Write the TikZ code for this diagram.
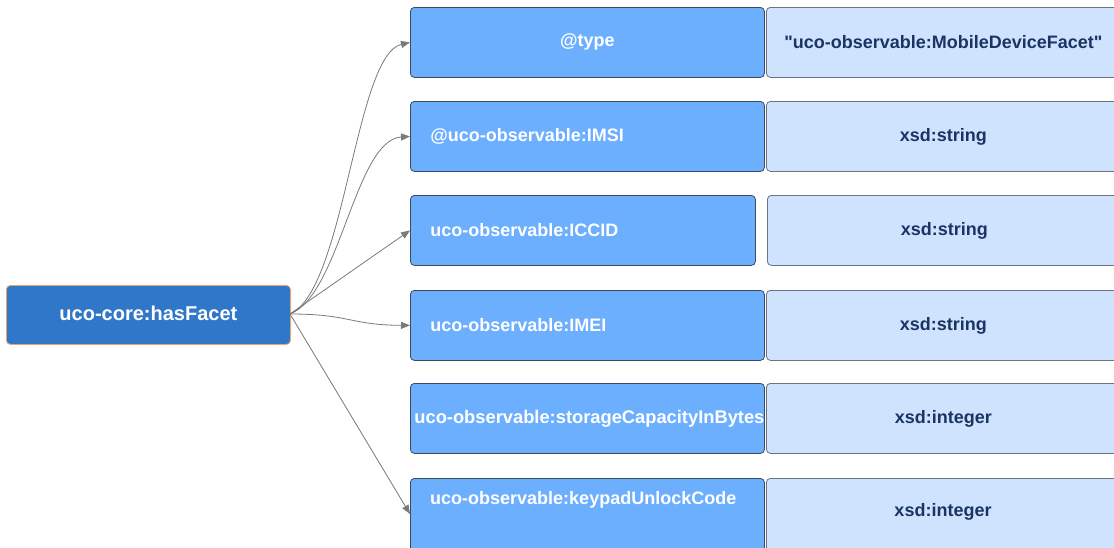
\documentclass[tikz,border=0pt]{standalone}
\usepackage{fontspec}
\setmainfont{Liberation Sans}[Ligatures=TeXOff]
\usetikzlibrary{arrows.meta}
\definecolor{srcfill}{HTML}{3077C9}
\definecolor{srcdraw}{HTML}{EFA366}
\definecolor{keyfill}{HTML}{6CAFFF}
\definecolor{keydraw}{HTML}{3D4A5C}
\definecolor{valfill}{HTML}{CFE3FF}
\definecolor{valdraw}{HTML}{6B7580}
\definecolor{valtext}{HTML}{1B3464}
\definecolor{linkcol}{HTML}{7A7A7A}
\tikzset{
  srcbox/.style={draw=srcdraw, fill=srcfill, rounded corners=4pt, line width=0.8pt,
    minimum width=284pt, minimum height=59pt, anchor=north west, inner sep=0pt,
    text=white, font=\fontsize{20}{24}\selectfont\bfseries},
  keybox/.style={draw=keydraw, fill=keyfill, rounded corners=4pt, line width=0.8pt,
    minimum width=354pt, minimum height=70pt, anchor=north west, inner sep=0pt,
    text=white, font=\fontsize{18}{22}\selectfont\bfseries},
  keyleft/.style={keybox, inner xsep=20pt, text width=314pt, align=left},
  valbox/.style={draw=valdraw, fill=valfill, rounded corners=4pt, line width=0.8pt,
    minimum width=354pt, minimum height=70pt, anchor=north west, inner sep=0pt,
    text=valtext, font=\fontsize{18}{22}\selectfont\bfseries, text width=354pt, align=center},
  keytext/.style={text=white, font=\fontsize{18}{22}\selectfont\bfseries, inner sep=0pt, anchor=west},
  link/.style={draw=linkcol, line width=0.8pt, -{Triangle[length=9pt,width=7pt]}}
}
\begin{document}
\begin{tikzpicture}[x=1pt,y=-1pt]
\clip (0,0) rectangle (1114,547);
\fill[white] (0,0) rectangle (1114,547);
\node[srcbox] (src) at (6,285) {\raisebox{3pt}{uco-core:hasFacet}};
\coordinate (s) at (290,314);

\node[keybox] (k1) at (410,7) {@type};
\node[keyleft] (k2) at (410,101) {@uco-observable:IMSI};
\node[keyleft, minimum width=345pt, text width=305pt] (k3) at (410,195) {uco-observable:ICCID};
\node[keyleft] (k4) at (410,290) {uco-observable:IMEI};
\node[keybox] (k5) at (410,383) {\hspace*{4pt}\resizebox{350pt}{!}{uco-observable:storageCapacityInBytes}\hfill};
\node[keybox, minimum height=95pt] (k6) at (410,478) {};
\node[keytext] (k6t) at (430,500) {uco-observable:keypadUnlockCode};

\node[valbox] (v1) at (766,7) {"uco-observable:MobileDeviceFacet"};
\node[valbox] (v2) at (766,101) {xsd:string};
\node[valbox] (v3) at (767,195) {xsd:string};
\node[valbox] (v4) at (766,290) {xsd:string};
\node[valbox] (v5) at (766,383) {xsd:integer};
\node[valbox, minimum height=95pt] (v6) at (766,478) {};
\node[text=valtext, font=\fontsize{18}{22}\selectfont\bfseries, inner sep=0pt] (v6t) at (943,512) {xsd:integer};

\draw[link] (s) .. controls (345,290) and (355,55) .. (k1.west);
\draw[link] (s) .. controls (340,295) and (355,140) .. (k2.west);
\draw[link] (s) -- (k3.west);
\draw[link] (s) .. controls (350,314) and (350,325) .. (k4.west);
\draw[link] (s) -- (410,514);
\end{tikzpicture}
\end{document}
